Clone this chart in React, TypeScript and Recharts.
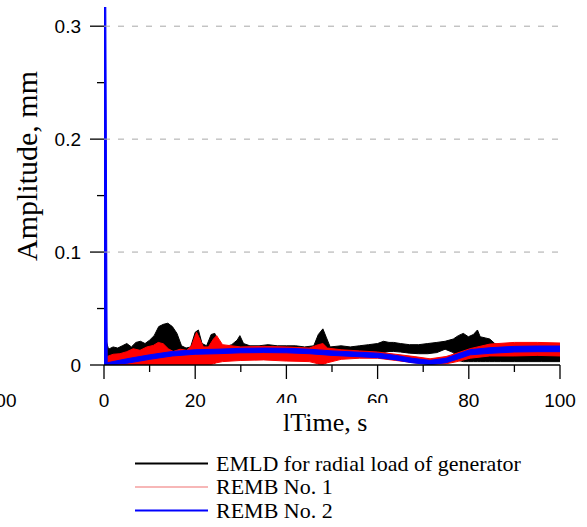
import React from 'react';
import { ComposedChart, Area, XAxis, YAxis, ReferenceLine } from 'recharts';

// EMLD for radial load of generator (black), envelope of the signal
const blackTime = [0, 0.3, 1, 2, 3, 4, 5, 6, 7, 8, 9, 10, 11, 12, 13, 14, 15, 16, 17, 18, 19, 20, 20.7, 21.5, 22.5, 23.5, 24.3, 25.3, 26.5, 28, 29.2, 29.8, 30.6, 32, 34, 36, 38, 40, 42, 44, 46, 47, 48, 48.8, 49.6, 52, 54, 56, 58, 60, 61.3, 62.5, 63.5, 65, 67, 69, 71, 73, 74.8, 76.6, 77.7, 78.8, 79.9, 81, 81.9, 82.5, 83.6, 84.6, 85.7, 87, 90, 93, 96, 100];
const blackHigh = [0.012, 0.024, 0.014, 0.016, 0.015, 0.017, 0.019, 0.016, 0.02, 0.021, 0.019, 0.022, 0.026, 0.034, 0.036, 0.037, 0.034, 0.028, 0.017, 0.015, 0.016, 0.029, 0.031, 0.019, 0.017, 0.027, 0.028, 0.018, 0.016, 0.018, 0.022, 0.026, 0.019, 0.017, 0.017, 0.018, 0.017, 0.017, 0.017, 0.016, 0.017, 0.027, 0.032, 0.024, 0.016, 0.017, 0.016, 0.017, 0.018, 0.019, 0.021, 0.02, 0.02, 0.019, 0.018, 0.018, 0.019, 0.02, 0.021, 0.023, 0.026, 0.028, 0.025, 0.027, 0.031, 0.025, 0.024, 0.023, 0.019, 0.017, 0.016, 0.016, 0.016, 0.016];
const blackLow = [0.001, 0.001, 0.001, 0.001, 0.001, 0.001, 0.001, 0.001, 0.001, 0.001, 0.001, 0.001, 0.001, 0.001, 0.001, 0.001, 0.001, 0.001, 0.001, 0.001, 0.001, 0.001, 0.001, 0.001, 0.001, 0.002, 0.003, 0.006, 0.008, 0.008, 0.008, 0.008, 0.008, 0.008, 0.008, 0.008, 0.008, 0.008, 0.008, 0.008, 0.008, 0.001, 0.001, 0.004, 0.008, 0.008, 0.008, 0.008, 0.009, 0.01, 0.011, 0.012, 0.012, 0.0115, 0.0105, 0.01, 0.01, 0.011, 0.014, 0.011, 0.004, 0.003, 0.003, 0.003, 0.003, 0.003, 0.003, 0.003, 0.003, 0.003, 0.003, 0.003, 0.003, 0.003];

// REMB No. 1 (red)
const redTime = [0, 0.3, 0.6, 2, 3.5, 5, 6.4, 7.9, 9.4, 10.8, 11.9, 13, 14.1, 15.2, 16.7, 18.1, 19.2, 20.3, 21, 21.8, 22.9, 24, 24.7, 26, 30, 35, 40, 45, 47, 48, 49, 52, 56, 60, 64, 68, 71.5, 75, 77.4, 80.3, 84.6, 90, 95, 100];
const redHigh = [0.268, 0.268, 0.0074, 0.0095, 0.01, 0.0118, 0.0144, 0.013, 0.016, 0.0173, 0.02, 0.0188, 0.0144, 0.012, 0.014, 0.013, 0.017, 0.029, 0.023, 0.016, 0.016, 0.023, 0.026, 0.018, 0.016, 0.0165, 0.016, 0.015, 0.018, 0.019, 0.015, 0.0135, 0.0125, 0.0115, 0.0095, 0.0075, 0.0055, 0.0075, 0.0105, 0.0145, 0.0185, 0.02, 0.02, 0.0195];
const redLow = [0, 0, 0, 0, 0, 0, 0, 0, 0, 0, 0, 0, 0, 0, 0, 0, 0, 0, 0, 0, 0, 0.001, 0.002, 0.003, 0.004, 0.0045, 0.0035, 0.003, 0.001, 0.0005, 0.002, 0.005, 0.006, 0.006, 0.004, 0.002, 0.0008, 0.001, 0.003, 0.006, 0.008, 0.008, 0.0085, 0.008];

// REMB No. 2 (blue)
const blueTime = [0, 0.4, 0.7, 5, 10, 15, 20, 25, 30, 35, 40, 45, 50, 55, 60, 64, 67.5, 71.5, 75, 77.4, 80.3, 84.6, 90, 95, 100];
const blueHigh = [0.317, 0.317, 0.002, 0.0055, 0.009, 0.012, 0.0135, 0.014, 0.0148, 0.015, 0.0148, 0.014, 0.0125, 0.0115, 0.0105, 0.0085, 0.006, 0.0041, 0.006, 0.0095, 0.0136, 0.0153, 0.0165, 0.0168, 0.0168];
const blueLow = [0, 0, 0, 0.0015, 0.005, 0.008, 0.0095, 0.01, 0.0108, 0.011, 0.0108, 0.01, 0.0085, 0.0075, 0.0065, 0.0045, 0.002, 0.0003, 0.002, 0.005, 0.009, 0.0103, 0.0115, 0.0118, 0.0118];

const xTicks = [0, 10, 20, 30, 40, 50, 60, 70, 80, 90, 100];
const yTicks = [0, 0.05, 0.1, 0.15, 0.2, 0.25, 0.3];
const gridLevels = [0.1, 0.2, 0.3];

const legendItems = [
  { name: 'EMLD for radial load of generator', color: '#000000', width: 2 },
  { name: 'REMB No. 1', color: '#f07070', width: 1.2 },
  { name: 'REMB No. 2', color: '#0000ff', width: 2 },
];

const SANS = '"Liberation Sans", Arial, sans-serif';
const SERIF = '"Liberation Serif", "Times New Roman", serif';

const toRows = (time: number[], low: number[], high: number[]) =>
  time.map((t, i) => ({ t, range: [low[i], high[i]] }));

const blackData = toRows(blackTime, blackLow, blackHigh);
const redData = toRows(redTime, redLow, redHigh);
const blueData = toRows(blueTime, blueLow, blueHigh);

function XTick(props: any) {
  const { x, y, payload } = props;
  const major = payload.value % 20 === 0;
  return (
    <g>
      <line x1={x} x2={x} y1={y} y2={y + (major ? 14 : 7)} stroke="#000" strokeWidth={1.3} />
      {major && (
        <text x={x} y={y + 42} textAnchor="middle" fontSize={19} fontFamily={SANS} fill="#000">
          {payload.value}
        </text>
      )}
    </g>
  );
}

function YTick(props: any) {
  const { x, y, payload } = props;
  const v = payload.value;
  const major = Math.round(v * 100) % 10 === 0;
  return (
    <g>
      <line x1={x - (major ? 14 : 7)} x2={x} y1={y} y2={y} stroke="#000" strokeWidth={1.3} />
      {major && (
        <text x={x - 23} y={y + 7} textAnchor="end" fontSize={19} fontFamily={SANS} fill="#000">
          {v === 0 ? '0' : v.toFixed(1)}
        </text>
      )}
    </g>
  );
}

export default function App() {
  return (
    <div style={{ position: 'absolute', left: 0, top: 0, width: 587, height: 527, background: '#fff' }}>
      <ComposedChart width={587} height={527} margin={{ top: 7, right: 27, bottom: 122, left: 0 }}>
        {gridLevels.map((g) => (
          <ReferenceLine key={g} y={g} stroke="#a8a8a8" strokeDasharray="6 8" strokeWidth={1} />
        ))}
        <XAxis
          type="number"
          dataKey="t"
          domain={[0, 100]}
          ticks={xTicks}
          interval={0}
          height={40}
          tickSize={0}
          tickMargin={0}
          tickLine={false}
          axisLine={{ stroke: '#000', strokeWidth: 1.3 }}
          tick={<XTick />}
          allowDataOverflow
        />
        <YAxis
          type="number"
          domain={[0, 0.317]}
          ticks={yTicks}
          interval={0}
          width={104}
          tickSize={0}
          tickMargin={0}
          tickLine={false}
          axisLine={false}
          tick={<YTick />}
          allowDataOverflow
        />
        <Area data={blackData} dataKey="range" type="linear" stroke="#000" strokeWidth={1} fill="#000" fillOpacity={1} dot={false} activeDot={false} isAnimationActive={false} />
        <Area data={redData} dataKey="range" type="linear" stroke="#ff0000" strokeWidth={1} fill="#ff0000" fillOpacity={1} dot={false} activeDot={false} isAnimationActive={false} />
        <Area data={blueData} dataKey="range" type="linear" stroke="#0000ff" strokeWidth={1} fill="#0000ff" fillOpacity={1} dot={false} activeDot={false} isAnimationActive={false} />
      </ComposedChart>
      <svg width={587} height={527} style={{ position: 'absolute', left: 0, top: 0, pointerEvents: 'none' }}>
        {/* piece of the neighbouring panel's tick label */}
        <text x={16.5} y={407} textAnchor="end" fontSize={19} fontFamily={SANS} fill="#000">100</text>
        <rect x={268} y={403} width={128} height={36} fill="#fff" />
        <text x={283} y={431} fontSize={26} fontFamily={SERIF} fill="#000">lTime, s</text>
        <text x={36.5} y={166} transform="rotate(-90 36.5 166)" textAnchor="middle" fontSize={30} fontFamily={SERIF} fill="#000">
          Amplitude, mm
        </text>
        {legendItems.map((item, i) => {
          const ly = 463.5 + i * 23.5;
          return (
            <g key={item.name}>
              <line x1={135} x2={208} y1={ly} y2={ly} stroke={item.color} strokeWidth={item.width} />
              <text x={216} y={ly + 7} fontSize={22} fontFamily={SERIF} fill="#000">{item.name}</text>
            </g>
          );
        })}
      </svg>
    </div>
  );
}
